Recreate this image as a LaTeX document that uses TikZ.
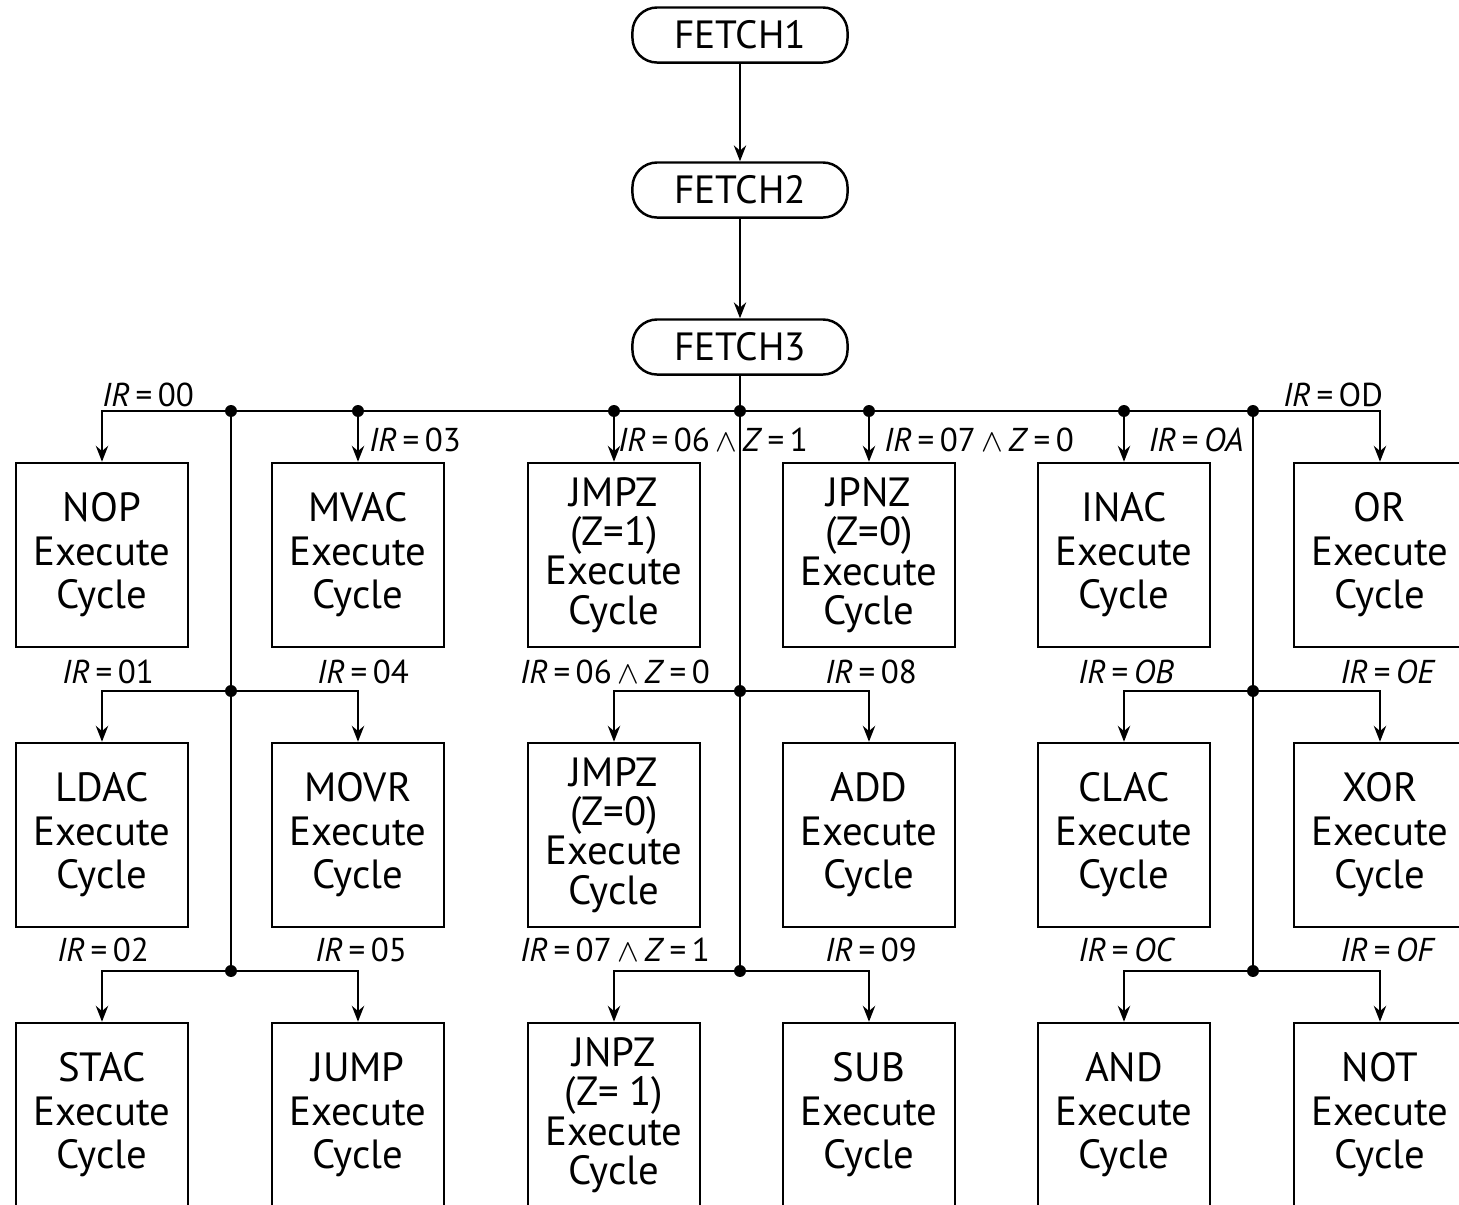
\documentclass[tikz,border=0pt]{standalone}
\usepackage{fontspec}
\setmainfont{PT Sans}
\usepackage{tikz}
\usetikzlibrary{arrows.meta,positioning}
\tikzset{
  fetch state/.style={rectangle,draw,rounded corners=7pt,minimum width=2.15cm,minimum height=5.5mm,inner sep=1pt,font=\fontsize{11.2}{14}\selectfont,line width=0.7pt},
  exec cycle/.style={rectangle,draw,minimum width=1.72cm,minimum height=1.84cm,align=center,inner sep=1pt,font=\fontsize{11.6}{12.4}\selectfont,line width=0.7pt},
  exec cycle4/.style={exec cycle,font=\fontsize{11.6}{11.2}\selectfont},
  cond label/.style={font=\fontsize{9.4}{10}\selectfont,inner sep=1pt},
  flow arrow/.style={-{Stealth[length=4.5pt,width=3.5pt]},line width=0.6pt},
  bus line/.style={line width=0.6pt}
}
\newcommand{\irq}{\textit{IR}\,=\,}
\newcommand{\andz}{\,$\wedge$\,\textit{Z}\,=\,}

\begin{document}
\begin{tikzpicture}[x=0.01cm,y=-0.01cm]
  \useasboundingbox (0,0) rectangle (1459,1205);
  \clip (0,0) rectangle (1459,1205);
  % fetch states
  \node[fetch state] (fetch1) at (740,35) {FETCH1};
  \node[fetch state] (fetch2) at (740,190) {FETCH2};
  \node[fetch state] (fetch3) at (740,347) {FETCH3};
  % execute cycles, first row
  \node[exec cycle] (nop) at (102,555) {NOP\\Execute\\Cycle};
  \node[exec cycle] (mvac) at (358,555) {MVAC\\Execute\\Cycle};
  \node[exec cycle4] (jmpz1) at (614,555) {JMPZ\\(Z=1)\\Execute\\Cycle};
  \node[exec cycle4] (jpnz) at (869,555) {JPNZ\\(Z=0)\\Execute\\Cycle};
  \node[exec cycle] (inac) at (1124,555) {INAC\\Execute\\Cycle};
  \node[exec cycle] (or) at (1380,555) {OR\\Execute\\Cycle};
  % second row
  \node[exec cycle] (ldac) at (102,835) {LDAC\\Execute\\Cycle};
  \node[exec cycle] (movr) at (358,835) {MOVR\\Execute\\Cycle};
  \node[exec cycle4] (jmpz0) at (614,835) {JMPZ\\(Z=0)\\Execute\\Cycle};
  \node[exec cycle] (add) at (869,835) {ADD\\Execute\\Cycle};
  \node[exec cycle] (clac) at (1124,835) {CLAC\\Execute\\Cycle};
  \node[exec cycle] (xor) at (1380,835) {XOR\\Execute\\Cycle};
  % third row
  \node[exec cycle] (stac) at (102,1115) {STAC\\Execute\\Cycle};
  \node[exec cycle] (jump) at (358,1115) {JUMP\\Execute\\Cycle};
  \node[exec cycle4] (jnpz) at (614,1115) {JNPZ\\(Z= 1)\\Execute\\Cycle};
  \node[exec cycle] (sub) at (869,1115) {SUB\\Execute\\Cycle};
  \node[exec cycle] (and) at (1124,1115) {AND\\Execute\\Cycle};
  \node[exec cycle] (not) at (1380,1115) {NOT\\Execute\\Cycle};
  % junctions
  \coordinate (jL0) at (231,411);
  \coordinate (jM0) at (740,411);
  \coordinate (jR0) at (1253,411);
  \coordinate (jL1) at (231,691);
  \coordinate (jM1) at (740,691);
  \coordinate (jR1) at (1253,691);
  \coordinate (jL2) at (231,971);
  \coordinate (jM2) at (740,971);
  \coordinate (jR2) at (1253,971);
  \coordinate (tmvac) at (358,411);
  \coordinate (tjmpz) at (614,411);
  \coordinate (tjpnz) at (869,411);
  \coordinate (tinac) at (1124,411);
  % fetch sequence
  \draw[flow arrow] (fetch1) -- (fetch2);
  \draw[flow arrow] (fetch2) -- (fetch3);
  \draw[bus line] (fetch3) -- (jM0);
  % decode bus and trunks
  \draw[bus line] (jL0) -- (jR0);
  \draw[bus line] (jL0) -- (jL2);
  \draw[bus line] (jM0) -- (jM2);
  \draw[bus line] (jR0) -- (jR2);
  \draw[flow arrow] (jL0) -| (nop);
  \draw[flow arrow] (tmvac) -- (mvac);
  \draw[flow arrow] (tjmpz) -- (jmpz1);
  \draw[flow arrow] (tjpnz) -- (jpnz);
  \draw[flow arrow] (tinac) -- (inac);
  \draw[flow arrow] (jR0) -| (or);
  \draw[flow arrow] (jL1) -| (ldac);
  \draw[flow arrow] (jL1) -| (movr);
  \draw[flow arrow] (jM1) -| (jmpz0);
  \draw[flow arrow] (jM1) -| (add);
  \draw[flow arrow] (jR1) -| (clac);
  \draw[flow arrow] (jR1) -| (xor);
  \draw[flow arrow] (jL2) -| (stac);
  \draw[flow arrow] (jL2) -| (jump);
  \draw[flow arrow] (jM2) -| (jnpz);
  \draw[flow arrow] (jM2) -| (sub);
  \draw[flow arrow] (jR2) -| (and);
  \draw[flow arrow] (jR2) -| (not);
  \foreach \j in {jL0,jM0,jR0,jL1,jM1,jR1,jL2,jM2,jR2,tmvac,tjmpz,tjpnz,tinac}
    \fill (\j) circle (1.7pt);
  % conditions
  \node[cond label] (c00) at (148,395) {\irq 00};
  \node[cond label] (c03) at (415,440) {\irq 03};
  \node[cond label] (c061) at (713,440) {\irq 06\andz 1};
  \node[cond label] (c070) at (979,440) {\irq 07\andz 0};
  \node[cond label] (c0a) at (1196,440) {\irq \textit{OA}};
  \node[cond label] (c0d) at (1333,395) {\irq OD};
  \node[cond label] (c01) at (108,672) {\irq 01};
  \node[cond label] (c04) at (363,672) {\irq 04};
  \node[cond label] (c060) at (615,672) {\irq 06\andz 0};
  \node[cond label] (c08) at (871,672) {\irq 08};
  \node[cond label] (c0b) at (1126,672) {\irq \textit{OB}};
  \node[cond label] (c0e) at (1388,672) {\irq \textit{OE}};
  \node[cond label] (c02) at (103,950) {\irq 02};
  \node[cond label] (c05) at (361,950) {\irq 05};
  \node[cond label] (c071) at (615,950) {\irq 07\andz 1};
  \node[cond label] (c09) at (871,950) {\irq 09};
  \node[cond label] (c0c) at (1127,950) {\irq \textit{OC}};
  \node[cond label] (c0f) at (1388,950) {\irq \textit{OF}};
\end{tikzpicture}
\end{document}
